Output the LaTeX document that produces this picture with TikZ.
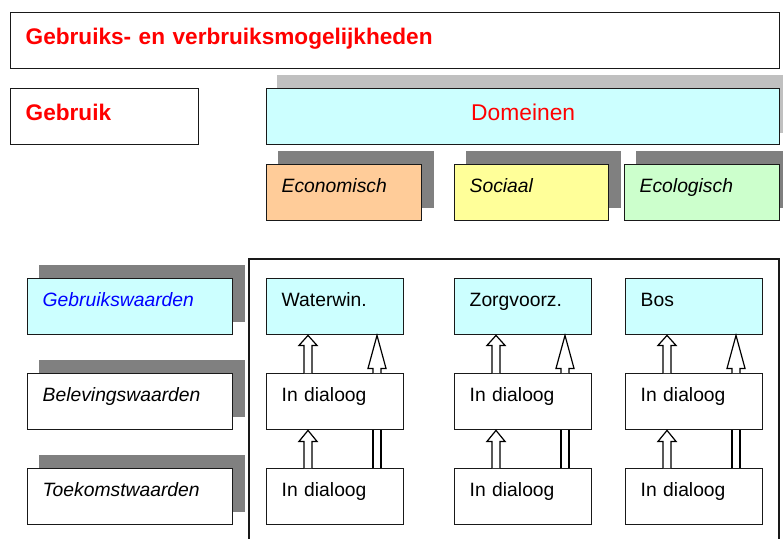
\documentclass[tikz,border=0pt]{standalone}
\usepackage{fontspec}
\setmainfont{Liberation Sans}
\usetikzlibrary{calc,backgrounds}

\definecolor{lichtcyaan}{HTML}{CCFFFF}
\definecolor{perzik}{HTML}{FFCC99}
\definecolor{lichtgeel}{HTML}{FFFF99}
\definecolor{lichtgroen}{HTML}{CCFFCC}
\definecolor{donkergrijs}{HTML}{808080}
\definecolor{lichtgrijs}{HTML}{C0C0C0}

% blokpijl van knoop #1 omhoog naar knoop #2
\newcommand\blokpijl[5]{%
  \draw[pijlrand] let \p1=($(#1.north west)+(#3,0)$), \p2=(#2.south) in
    (\x1-4pt,\y1) -- (\x1-4pt,\y2-#4) -- (\x1-#5,\y2-#4) -- (\x1,\y2)
    -- (\x1+#5,\y2-#4) -- (\x1+4pt,\y2-#4) -- (\x1+4pt,\y1);}
\newcommand\blokschacht[3]{%
  \draw[pijlrand] let \p1=($(#1.north west)+(#3,0)$), \p2=(#2.south) in
    (\x1-4pt,\y1) -- (\x1-4pt,\y2) (\x1+4pt,\y2) -- (\x1+4pt,\y1);}

\begin{document}
\begin{tikzpicture}[x=1pt,y=-1pt,
    vak/.style={draw=black!90,line width=1.4pt,inner xsep=15pt,inner ysep=0pt,
      minimum height=56pt,text height=0pt,text depth=0pt,align=left,
      anchor=north west,font=\fontsize{19.3}{23}\selectfont},
    kop/.style={vak,text height=8pt,font=\fontsize{22.6}{26}\selectfont\bfseries,text=red},
    schaduw/.style={fill=donkergrijs},
    pijlrand/.style={draw=black,line width=1.2pt,fill=white}]
  \useasboundingbox (0,0) rectangle (783,538);

  % bovenste rij
  \node[kop,text width=739pt](titel)at(10,12){Gebruiks- en verbruiksmogelijkheden};
  \node[kop,text width=158pt](gebruik)at(10,88){Gebruik};
  \node[vak,fill=lichtcyaan,text=red,align=center,text height=8pt,
        font=\fontsize{22.8}{26}\selectfont,text width=483pt](domeinen)at(266,88){Domeinen};
  \node[vak,fill=perzik,text width=125pt](econ)at(266,164){\itshape Economisch};
  \node[vak,fill=lichtgeel,text width=124pt](sociaal)at(454,164){\itshape Sociaal};
  \node[vak,fill=lichtgroen,text width=125pt](ecol)at(624,164){\itshape Ecologisch};

  % waarden links
  \node[vak,fill=lichtcyaan,text=blue,text width=175pt](gw)at(27,278){\itshape Gebruikswaarden};
  \node[vak,fill=white,text width=175pt](bw)at(27,373){\itshape Belevingswaarden};
  \node[vak,fill=white,text width=175pt](tw)at(27,468){\itshape Toekomstwaarden};

  % kader met kolommen
  \draw[black!90,line width=1.4pt] (249,545) -- (249,259) -- (779,259) -- (779,545);
  \node[vak,fill=lichtcyaan,text width=107pt](w1)at(266,278){Waterwin.};
  \node[vak,fill=white,text width=107pt](w2)at(266,373){In dialoog};
  \node[vak,fill=white,text width=107pt](w3)at(266,468){In dialoog};
  \node[vak,fill=lichtcyaan,text width=107pt](z1)at(454,278){Zorgvoorz.};
  \node[vak,fill=white,text width=107pt](z2)at(454,373){In dialoog};
  \node[vak,fill=white,text width=107pt](z3)at(454,468){In dialoog};
  \node[vak,fill=lichtcyaan,text width=107pt](b1)at(625,278){Bos};
  \node[vak,fill=white,text width=107pt](b2)at(625,373){In dialoog};
  \node[vak,fill=white,text width=107pt](b3)at(625,468){In dialoog};

  % schaduwen
  \begin{scope}[on background layer]
    \fill[lichtgrijs] ($(domeinen.north west)+(11,-13)$) rectangle ($(domeinen.south east)+(11,-12)$);
    \foreach \n in {econ,sociaal,ecol,gw,bw,tw}
      \fill[schaduw] ($(\n.north west)+(12,-13)$) rectangle ($(\n.south east)+(12,-13)$);
  \end{scope}

  % pijlen
  \foreach \k in {w,z,b}{
    \blokpijl{\k2}{\k1}{42}{10pt}{9pt}
    \blokpijl{\k2}{\k1}{111}{33pt}{9pt}
    \blokpijl{\k3}{\k2}{42}{11pt}{9pt}
    \blokschacht{\k3}{\k2}{111}
  }
\end{tikzpicture}
\end{document}
